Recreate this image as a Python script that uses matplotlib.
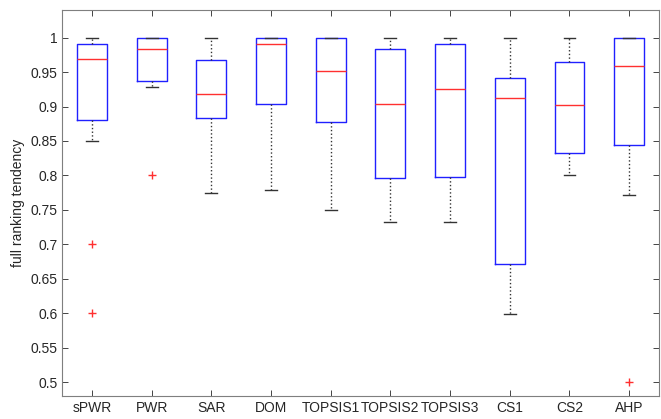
import matplotlib
matplotlib.use("Agg")
import matplotlib.pyplot as plt
import numpy as np

plt.rcParams['font.family'] = ['Liberation Sans', 'DejaVu Sans']

# methods and box statistics
methods = ['sPWR', 'PWR', 'SAR', 'DOM', 'TOPSIS1', 'TOPSIS2', 'TOPSIS3', 'CS1', 'CS2', 'AHP']
whisk_lo = [0.850, 0.928, 0.775, 0.779, 0.750, 0.733, 0.733, 0.599, 0.800, 0.772]
q1 = [0.880, 0.937, 0.884, 0.904, 0.877, 0.796, 0.798, 0.672, 0.832, 0.844]
med = [0.969, 0.984, 0.918, 0.991, 0.952, 0.904, 0.925, 0.912, 0.902, 0.959]
q3 = [0.991, 1.000, 0.967, 1.000, 1.000, 0.983, 0.991, 0.942, 0.965, 1.000]
whisk_hi = [1.000, 1.000, 1.000, 1.000, 1.000, 1.000, 1.000, 1.000, 1.000, 1.000]
outliers = [[0.7, 0.6], [0.8], [], [], [], [], [], [], [], [0.5]]

stats = []
for i in range(len(methods)):
    stats.append(dict(label=methods[i], whislo=whisk_lo[i], q1=q1[i], med=med[i],
                      q3=q3[i], whishi=whisk_hi[i], fliers=outliers[i]))

fig = plt.figure(figsize=(6.61, 4.19), dpi=100)
ax = fig.add_axes([0.094, 0.055, 0.903, 0.921])

ax.bxp(stats, positions=np.arange(1, len(methods) + 1), widths=0.5,
       showfliers=True,
       boxprops=dict(color='#2020ff', linewidth=1.0),
       medianprops=dict(color='#ff3030', linewidth=1.0),
       whiskerprops=dict(color='#333333', linestyle=':', linewidth=1.0),
       capprops=dict(color='#333333', linewidth=1.0),
       capwidths=0.2,
       flierprops=dict(marker='+', markeredgecolor='#ff3030', markersize=6,
                       linestyle='none'))

ax.set_xlim(0.5, 10.5)
ax.set_ylim(0.48, 1.04)
yt = np.arange(0.5, 1.001, 0.05)
ax.set_yticks(yt)
ax.set_yticklabels(['%g' % round(v, 2) for v in yt])
ax.set_xticks(np.arange(1, len(methods) + 1))
ax.set_xticklabels(methods)
ax.tick_params(direction='in', top=True, right=True, labelsize=10,
               colors='#262626', length=4, width=0.6)
for s in ax.spines.values():
    s.set_color('#7f7f7f')
    s.set_linewidth(0.8)
ax.set_ylabel('full ranking tendency', fontsize=10, color='#262626')

fig.savefig('out.png', dpi=100)
